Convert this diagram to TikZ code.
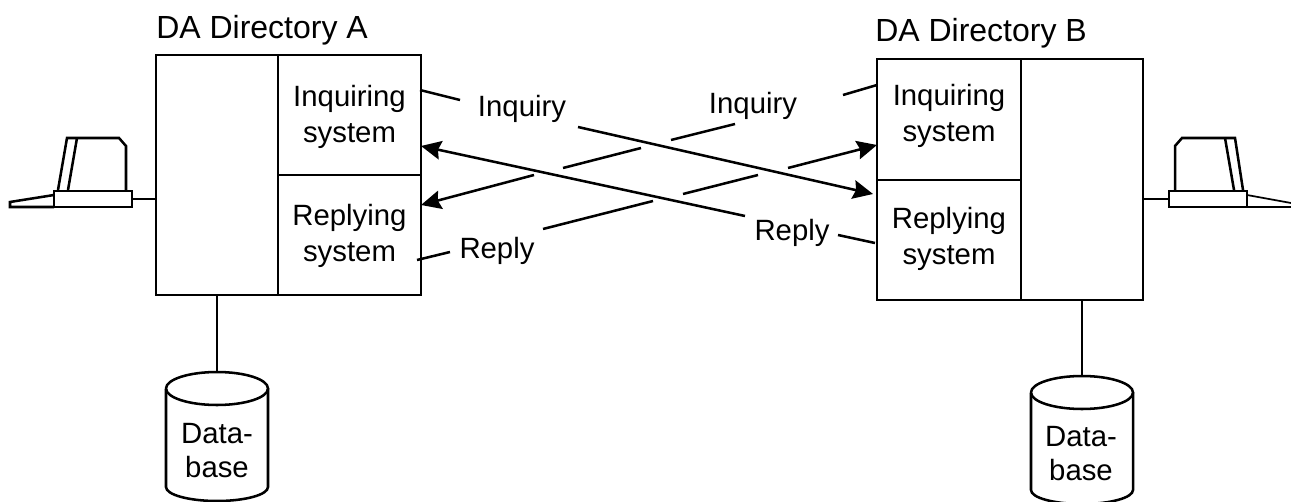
\documentclass[tikz,border=0pt]{standalone}
\usepackage{fontspec}
\setmainfont{Liberation Sans}
\usetikzlibrary{arrows.meta}
\tikzset{
  x=0.75pt,y=-0.75pt,
  ln/.style={line width=1.9pt,line cap=butt,line join=miter},
  boxn/.style={draw,line width=1.9pt,inner sep=0pt,outer sep=0pt,align=center,font=\fontsize{22}{27}\selectfont},
  boxt/.style={inner sep=0pt,align=center,font=\fontsize{22}{27}\selectfont},
  lab/.style={inner sep=0pt,font=\fontsize{22}{26}\selectfont,anchor=base},
  ttl/.style={inner sep=0pt,font=\fontsize{24}{28}\selectfont,anchor=base west},
  dbt/.style={inner sep=0pt,align=center,font=\fontsize{22}{25.5}\selectfont},
  arr/.style={ln,-{Stealth[length=15pt,width=14pt,inset=2pt]}}
}
\newcommand{\boxat}[6]{\node[boxn,minimum width=#4*0.75pt,minimum height=#5*0.75pt,anchor=north west] (#1) at (#2,#3) {#6};}
\begin{document}
\begin{tikzpicture}
\useasboundingbox (0,0) rectangle (1291,502);
% directories
\boxat{dirA}{156}{55}{122}{240}{}
\boxat{inqA}{278}{55}{143}{120}{}
\boxat{repA}{278}{175}{143}{120}{}
\boxat{inqB}{877}{59}{144}{121}{}
\boxat{repB}{877}{180}{144}{120}{}
\boxat{dirB}{1021}{59}{122}{241}{}
\node[boxt] (tA1) at (349.5,116.5) {Inquiring\\system};
\node[boxt] (tA2) at (349.5,236) {Replying\\system};
\node[boxt] (tB1) at (949,116) {Inquiring\\system};
\node[boxt] (tB2) at (949,239) {Replying\\system};
\node[ttl] (ttlA) at (156,39) {DA Directory A};
\node[ttl] (ttlB) at (875,42) {DA Directory B};
% labels
\node[lab] (l1) at (522,117) {Inquiry};
\node[lab] (l2) at (753,114) {Inquiry};
\node[lab] (l3) at (497,258) {Reply};
\node[lab] (l4) at (792,241) {Reply};
% Inquiry A to B
\coordinate (a0) at (420,90); \coordinate (a1) at (460,100);
\coordinate (a2) at (578,127); \coordinate (a3) at (873,194);
\draw[ln] (a0)--(a1); \draw[arr] (a2)--(a3);
% Inquiry B to A
\coordinate (b0) at (877,85); \coordinate (b1) at (843,95);
\coordinate (b2) at (735,124); \coordinate (b3) at (671,140);
\coordinate (b4) at (641,148); \coordinate (b5) at (563,168);
\coordinate (b6) at (534,175); \coordinate (b7) at (421,205);
\draw[ln] (b0)--(b1); \draw[ln] (b2)--(b3); \draw[ln] (b4)--(b5); \draw[arr] (b6)--(b7);
% Reply A to B
\coordinate (c0) at (417,260); \coordinate (c1) at (450,252);
\coordinate (c2) at (543,229); \coordinate (c3) at (653,201);
\coordinate (c4) at (683,194); \coordinate (c5) at (758,175);
\coordinate (c6) at (788,168); \coordinate (c7) at (877,145);
\draw[ln] (c0)--(c1); \draw[ln] (c2)--(c3); \draw[ln] (c4)--(c5); \draw[arr] (c6)--(c7);
% Reply B to A
\coordinate (d0) at (875,243); \coordinate (d1) at (838,235);
\coordinate (d2) at (745,216); \coordinate (d3) at (421,146);
\draw[ln] (d0)--(d1); \draw[arr] (d2)--(d3);
% left terminal
\draw[ln] (58,190)--(67,138)--(119,138)--(126,146)--(126,190);
\draw[ln] (68,190)--(77,138);
\node[draw,line width=1.9pt,inner sep=0pt,outer sep=0pt,minimum width=78*0.75pt,minimum height=16*0.75pt,anchor=north west] (termA) at (54,191) {};
\draw[ln] (54,195)--(10,202)--(10,207)--(54,207);
\draw[ln] (termA.east)--(dirA.west |- termA.east);
% right terminal
\draw[ln] (1243,190)--(1235,138)--(1182,138)--(1175,146)--(1175,190);
\draw[ln] (1234,190)--(1225,138);
\node[draw,line width=1.9pt,inner sep=0pt,outer sep=0pt,minimum width=78*0.75pt,minimum height=16*0.75pt,anchor=north west] (termB) at (1169,191) {};
\draw[line width=1.3pt] (1247,195)--(1291,203);
\draw[line width=1.3pt] (1247,207)--(1291,207);
\draw[ln] (termB.west)--(dirB.east |- termB.west);
% databases
\coordinate (dbA) at (217,372);
\draw[ln] (dbA |- dirA.south)--(dbA);
\draw[ln] (166,388.5) arc[x radius=51,y radius=16.5,start angle=180,end angle=540];
\draw[ln] (166,388.5)--(166,487) arc[x radius=51,y radius=14,start angle=180,end angle=0]--(268,388.5);
\node[dbt] (txtA) at (217,451) {Data-\\base};
\coordinate (dbB) at (1082,376);
\draw[ln] (dbB |- dirB.south)--(dbB);
\draw[ln] (1031,392.5) arc[x radius=51,y radius=16.5,start angle=180,end angle=540];
\draw[ln] (1031,392.5)--(1031,490) arc[x radius=51,y radius=14,start angle=180,end angle=0]--(1133,392.5);
\node[dbt] (txtB) at (1081,454) {Data-\\base};
\end{tikzpicture}
\end{document}
